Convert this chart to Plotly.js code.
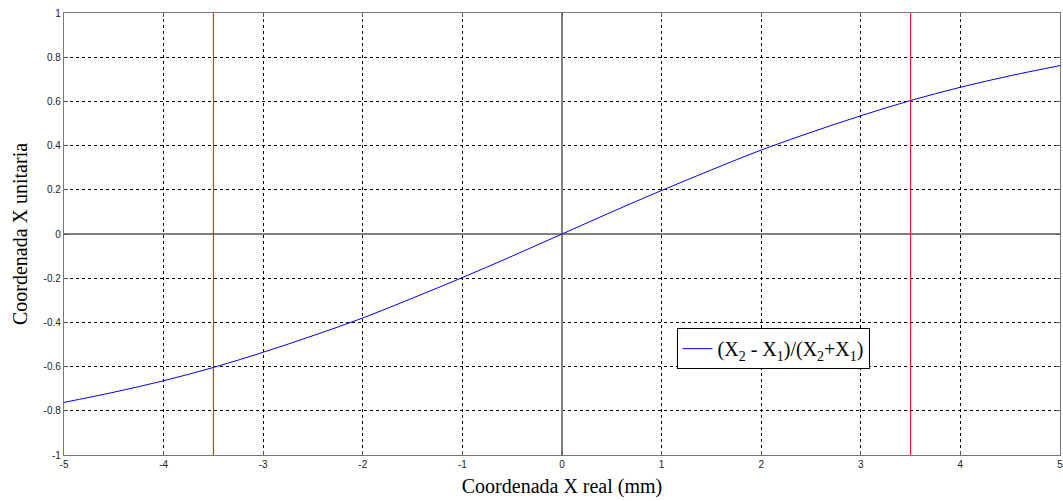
<!DOCTYPE html>
<html>
<head>
<meta charset="utf-8">
<script src="https://cdn.plot.ly/plotly-3.0.1.min.js"></script>
<style>html,body{margin:0;padding:0;background:#fff}#chart{width:1063px;height:501px}</style>
</head>
<body>
<div id="chart"></div>
<script>
// Curve
const xReal = [-5, -4.5, -4, -3.5, -3, -2.5, -2, -1.5, -1, -0.5, 0, 0.5, 1, 1.5, 2, 2.5, 3, 3.5, 4, 4.5, 5];
const xUnit = [-0.762, -0.716, -0.664, -0.604, -0.535, -0.46, -0.38, -0.29, -0.197, -0.1, 0, 0.1, 0.197, 0.29, 0.38, 0.46, 0.535, 0.604, 0.664, 0.716, 0.762];
// Red marker lines
const markerX = [-3.5, 3.5];
const markerY = [-1, 1];
const xTicks = [-5, -4, -3, -2, -1, 0, 1, 2, 3, 4, 5];
const yTicks = [-1, -0.8, -0.6, -0.4, -0.2, 0, 0.2, 0.4, 0.6, 0.8, 1];
const seriesName = '(X<sub>2</sub> - X<sub>1</sub>)/(X<sub>2</sub>+X<sub>1</sub>)';

const traces = markerX.map(mx => ({
  x: [mx, mx], y: markerY, mode: 'lines', type: 'scatter',
  line: {color: '#ff0000', width: 1}, showlegend: false, hoverinfo: 'skip'
}));
traces.push({
  x: xReal, y: xUnit, mode: 'lines', type: 'scatter', name: seriesName,
  line: {color: '#0000ff', width: 1, shape: 'spline'}
});

const axisCommon = {
  showline: true, linecolor: '#777', linewidth: 1.2, mirror: 'ticks',
  ticks: 'inside', ticklen: 4, tickcolor: '#555',
  showgrid: true, gridcolor: '#000', gridwidth: 1, griddash: '3px,3px',
  zeroline: true, zerolinecolor: '#808080', zerolinewidth: 1.5,
  tickfont: {family: 'Liberation Sans, Arial', size: 10, color: '#222'},
  ticklabeloverflow: 'allow'
};

const layout = {
  width: 1063, height: 501,
  margin: {l: 64, r: 3, t: 13, b: 46},
  paper_bgcolor: '#fff', plot_bgcolor: '#fff',
  xaxis: Object.assign({}, axisCommon, {
    range: [-5, 5], tickvals: xTicks, ticktext: xTicks.map(String),
    title: {text: 'Coordenada X real (mm)', font: {family: 'Liberation Serif, Times New Roman', size: 20, color: '#000'}, standoff: 9}
  }),
  yaxis: Object.assign({}, axisCommon, {
    range: [-1, 1], tickvals: yTicks, ticktext: yTicks.map(String),
    title: {text: 'Coordenada X unitaria', font: {family: 'Liberation Serif, Times New Roman', size: 20, color: '#000'}, standoff: 10}
  }),
  showlegend: true,
  legend: {
    x: 0.615, y: 0.287, xanchor: 'left', yanchor: 'top',
    bgcolor: '#fff', bordercolor: '#000', borderwidth: 1,
    font: {family: 'Liberation Serif, Times New Roman', size: 20, color: '#000'},
    tracegroupgap: 0, itemwidth: 30
  }
};

Plotly.newPlot('chart', traces, layout, {displayModeBar: false, staticPlot: true});
</script>
</body>
</html>
